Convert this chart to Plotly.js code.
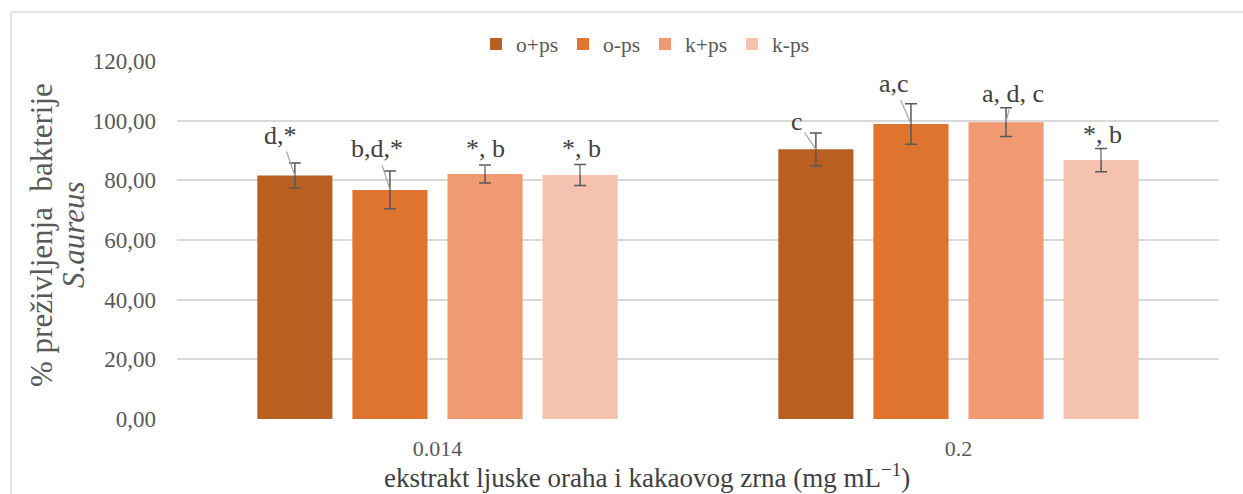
<!DOCTYPE html>
<html>
<head>
<meta charset="utf-8">
<script src="https://cdn.plot.ly/plotly-3.0.1.min.js"></script>
<style>html,body{margin:0;padding:0;background:#fff;}#chart{width:1243px;height:494px;}</style>
</head>
<body>
<div id="chart"></div>
<script>
// ---- data ----
const categories = ["0.014", "0.2"];
const seriesNames = ["o+ps", "o-ps", "k+ps", "k-ps"];
const seriesColors = ["#B95F22", "#DE742E", "#EF9A71", "#F4C2AF"];
const valsOps  = [81.6, 90.4];
const valsOms  = [76.8, 98.9];
const valsKps  = [82.1, 99.5];
const valsKms  = [81.8, 86.8];
const errOps = [4.2, 5.5];
const errOms = [6.3, 6.8];
const errKps = [3.0, 4.8];
const errKms = [3.5, 3.9];
const labelsOps = ["d,*", "c"];
const labelsOms = ["b,d,*", "a,c"];
const labelsKps = ["*, b", "a, d, c"];
const labelsKms = ["*, b", "*, b"];
const yTickVals = [0, 20, 40, 60, 80, 100, 120];
const yTickText = ["0,00", "20,00", "40,00", "60,00", "80,00", "100,00", "120,00"];
const yTitleLine1 = "% preživljenja\u00A0 bakterije";
const yTitleLine2 = "<i>S.aureus</i>";
const xTitle = "ekstrakt ljuske oraha i kakaovog zrna (mg mL<sup>−1</sup>)";

const values = [valsOps, valsOms, valsKps, valsKms];
const errors = [errOps, errOms, errKps, errKms];
const labels = [labelsOps, labelsOms, labelsKps, labelsKms];
// label offsets (px) from bar tops
const labelOffsets = [
  [[-14, -40], [-19, -28]],
  [[-13, -41], [-17, -40]],
  [[0, -26], [7, -29]],
  [[1, -26], [1, -26]]
];

const serif = "Liberation Serif, Times New Roman, serif";
const bargap = 0.27;

const traces = seriesNames.map((name, i) => ({
  type: "bar",
  name: name,
  x: categories,
  y: values[i],
  marker: {color: seriesColors[i]},
  error_y: {type: "data", array: errors[i], visible: true, color: "#595959", thickness: 1.5, width: 6},
  hoverinfo: "x+y+name"
}));

const px = v => (v - 177) / 1042;
const py = v => (419 - v) / 358;

const annotations = [];
const slot = (1 - bargap) / seriesNames.length;
seriesNames.forEach((name, i) => {
  categories.forEach((c, j) => {
    annotations.push({
      xref: "x", yref: "y",
      x: j + (i - (seriesNames.length - 1) / 2) * slot,
      y: values[i][j],
      text: labels[i][j],
      showarrow: true, arrowhead: 0, arrowwidth: 1.2, arrowcolor: "#A6A6A6",
      ax: labelOffsets[i][j][0], ay: labelOffsets[i][j][1],
      font: {family: serif, size: 26, color: "#404040"}
    });
  });
});
// y axis title (two lines)
annotations.push({
  xref: "paper", yref: "paper", x: px(41), y: py(235),
  xanchor: "center", yanchor: "middle", textangle: -90, showarrow: false,
  text: yTitleLine1, font: {family: serif, size: 31, color: "#595959"}
});
annotations.push({
  xref: "paper", yref: "paper", x: px(73), y: py(235),
  xanchor: "center", yanchor: "middle", textangle: -90, showarrow: false,
  text: yTitleLine2, font: {family: serif, size: 31, color: "#595959"}
});
// x axis title
annotations.push({
  xref: "paper", yref: "paper", x: px(647), y: py(476),
  xanchor: "center", yanchor: "middle", showarrow: false,
  text: xTitle, font: {family: serif, size: 27, color: "#404040"}
});

const layout = {
  width: 1243, height: 494,
  margin: {l: 177, r: 24, t: 61, b: 75},
  paper_bgcolor: "#fff", plot_bgcolor: "#fff",
  barmode: "group", bargap: bargap, bargroupgap: 0.21,
  font: {family: serif, color: "#595959"},
  showlegend: true,
  legend: {
    orientation: "h", x: px(476), y: py(44), xanchor: "left", yanchor: "middle",
    font: {family: serif, size: 21.5, color: "#595959"},
    itemwidth: 30, traceorder: "normal", bgcolor: "rgba(0,0,0,0)"
  },
  xaxis: {
    type: "category", showgrid: false, zeroline: false, showline: false,
    ticks: "", tickfont: {family: serif, size: 22, color: "#595959"},
    ticklabelstandoff: 14,
    range: [-0.5, 1.5], fixedrange: true
  },
  yaxis: {
    range: [0, 120], tickvals: yTickVals, ticktext: yTickText,
    showgrid: true, gridcolor: "#D9D9D9", gridwidth: 1.5,
    zeroline: false, showline: false, ticks: "",
    tickfont: {family: serif, size: 23, color: "#595959"},
    ticklabelstandoff: 20, fixedrange: true
  },
  annotations: annotations,
  shapes: [
    {type: "line", xref: "paper", yref: "paper", x0: px(11), x1: px(11), y0: py(12), y1: py(500), line: {color: "#D9D9D9", width: 1.5}},
    {type: "line", xref: "paper", yref: "paper", x0: px(11), x1: px(1250), y0: py(12), y1: py(12), line: {color: "#D9D9D9", width: 1.5}}
  ]
};

Plotly.newPlot("chart", traces, layout, {displayModeBar: false});
</script>
</body>
</html>
